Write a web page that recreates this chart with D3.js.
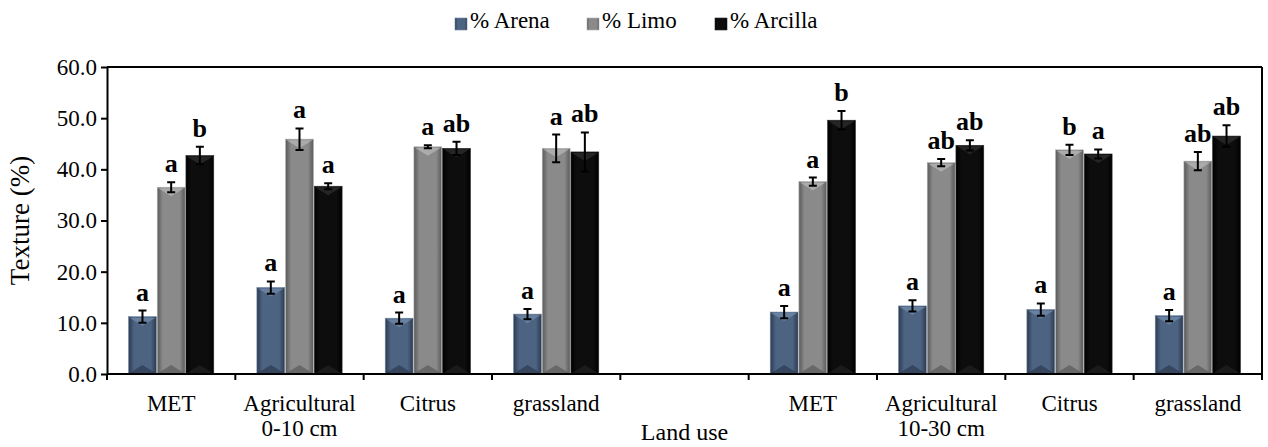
<!DOCTYPE html>
<html>
<head>
<meta charset="utf-8">
<style>body{margin:0;background:#fff;}</style>
</head>
<body>
<svg width="1268" height="447"></svg>
<script src="https://d3js.org/d3.v7.min.js"></script>
<script>

var categories = ["MET", "Agricultural", "Citrus", "grassland", "", "MET", "Agricultural", "Citrus", "grassland"];
var subLabels = ["", "0-10 cm", "", "", "", "", "10-30 cm", "", ""];
var seriesNames = ["% Arena", "% Limo", "% Arcilla"];
var yTicks = [0, 10, 20, 30, 40, 50, 60];

var arena = [11.2, 16.9, 10.9, 11.7, null, 12.1, 13.3, 12.6, 11.4];
var limo = [36.5, 45.9, 44.4, 44.1, null, 37.6, 41.3, 43.8, 41.6];
var arcilla = [42.7, 36.7, 44.1, 43.4, null, 49.6, 44.7, 43.0, 46.5];

var arenaErr = [1.2, 1.2, 1.1, 1.0, null, 1.2, 1.1, 1.2, 1.1];
var limoErr = [1.0, 2.1, 0.3, 2.7, null, 0.8, 0.7, 1.0, 1.8];
var arcillaErr = [1.7, 0.6, 1.3, 3.8, null, 1.8, 1.0, 0.9, 2.1];

var arenaSig = ["a", "a", "a", "a", null, "a", "a", "a", "a"];
var limoSig = ["a", "a", "a", "a", null, "a", "ab", "b", "ab"];
var arcillaSig = ["b", "a", "ab", "ab", null, "b", "ab", "a", "ab"];

var serif = "'Liberation Serif'";

var svg = d3.select("svg").style("font-family", serif),
    margin = {top: 67, right: 6, bottom: 73, left: 107},
    width = +svg.attr("width") - margin.left - margin.right,
    height = +svg.attr("height") - margin.top - margin.bottom,
    g = svg.append("g").attr("transform", "translate(" + margin.left + "," + margin.top + ")");

// bar colours: edge, mid, light
var shades = [
  {edge: "#2c3a4f", mid: "#4d6382", light: "#6f86a6"},
  {edge: "#5a5a5a", mid: "#8a8a8a", light: "#b0b0b0"},
  {edge: "#000000", mid: "#0d0d0d", light: "#2a2a2a"}
];

var defs = svg.append("defs");
shades.forEach(function(s, i) {
  var gr = defs.append("linearGradient").attr("id", "grad" + i)
      .attr("x1", "0").attr("x2", "1").attr("y1", "0").attr("y2", "0");
  gr.append("stop").attr("offset", "0").attr("stop-color", s.edge);
  gr.append("stop").attr("offset", "0.2").attr("stop-color", s.mid);
  gr.append("stop").attr("offset", "0.8").attr("stop-color", s.mid);
  gr.append("stop").attr("offset", "1").attr("stop-color", s.edge);
});

var rows = [];
categories.forEach(function(c, i) {
  [arena, limo, arcilla].forEach(function(arr, k) {
    if (arr[i] == null) return;
    rows.push({
      cat: i, series: k, value: arr[i],
      err: [arenaErr, limoErr, arcillaErr][k][i],
      sig: [arenaSig, limoSig, arcillaSig][k][i]
    });
  });
});

var x0 = d3.scaleBand()
    .domain(d3.range(categories.length))
    .range([0, width])
    .paddingInner(0.336)
    .paddingOuter(0.168);

var x1 = d3.scaleBand()
    .domain([0, 1, 2])
    .range([0, x0.bandwidth()])
    .paddingInner(0.03);

var y = d3.scaleLinear()
    .domain([0, 60])
    .range([height, 0]);

// y axis
var yAxis = g.append("g")
    .call(d3.axisLeft(y).tickValues(yTicks).tickFormat(d3.format(".1f")).tickSize(6).tickSizeOuter(0));
yAxis.attr("font-family", null).attr("font-size", null).style("font-family", serif);
yAxis.select(".domain").attr("stroke-width", 2);
yAxis.selectAll(".tick line").attr("stroke-width", 2);
yAxis.selectAll(".tick text")
    .style("font-family", serif)
    .style("font-size", "23px")
    .attr("fill", "#000")
    .attr("x", -10);

// box top and right
g.append("line").attr("x1", 0).attr("x2", width).attr("y1", 0).attr("y2", 0)
    .attr("stroke", "#000").attr("stroke-width", 2);
g.append("line").attr("x1", width).attr("x2", width).attr("y1", 0).attr("y2", height)
    .attr("stroke", "#000").attr("stroke-width", 2);

// bars
var bars = g.append("g").selectAll("g")
  .data(rows)
  .enter().append("g")
    .attr("transform", function(d) { return "translate(" + (x0(d.cat) + x1(d.series)) + ",0)"; });

bars.append("rect")
    .attr("x", 0)
    .attr("y", function(d) { return y(d.value); })
    .attr("width", x1.bandwidth())
    .attr("height", function(d) { return height - y(d.value); })
    .attr("fill", function(d) { return "url(#grad" + d.series + ")"; })
    .attr("stroke", function(d) { return shades[d.series].light; })
    .attr("stroke-width", 0.6);

// bevel facets: light triangle at top, dark at bottom
bars.append("path")
    .attr("d", function(d) {
      var w = x1.bandwidth(), t = y(d.value), h = Math.min(9, (height - t) / 2);
      return "M1," + (t + 1) + "L" + (w - 1) + "," + (t + 1) + "L" + (w / 2) + "," + (t + h) + "Z";
    })
    .attr("fill", function(d) { return shades[d.series].light; })
    .attr("opacity", 0.85);

bars.append("path")
    .attr("d", function(d) {
      var w = x1.bandwidth();
      return "M1," + (height - 1) + "L" + (w - 1) + "," + (height - 1) + "L" + (w / 2) + "," + (height - 9) + "Z";
    })
    .attr("fill", function(d) { return d.series == 2 ? "#222" : shades[d.series].edge; })
    .attr("opacity", 0.7);

// error bars
var cap = 4;
bars.append("path")
    .attr("d", function(d) {
      var cx = x1.bandwidth() / 2, lo = y(d.value - d.err), hi = y(d.value + d.err);
      return "M" + cx + "," + lo + "V" + hi +
             "M" + (cx - cap) + "," + hi + "H" + (cx + cap) +
             "M" + (cx - cap) + "," + lo + "H" + (cx + cap);
    })
    .attr("stroke", "#000")
    .attr("stroke-width", 2)
    .attr("fill", "none");

// significance letters
bars.append("text")
    .attr("x", x1.bandwidth() / 2)
    .attr("y", function(d) { return y(d.value + d.err) - 10; })
    .attr("text-anchor", "middle")
    .style("font-family", serif)
    .style("font-weight", "bold")
    .style("font-size", "26px")
    .text(function(d) { return d.sig; });

// x axis with ticks at category boundaries
var boundaries = d3.range(categories.length + 1).map(function(i) { return i * x0.step(); });
g.append("line")
    .attr("x1", 0).attr("x2", width).attr("y1", height).attr("y2", height)
    .attr("stroke", "#000").attr("stroke-width", 2);
g.append("g").selectAll("line")
  .data(boundaries)
  .enter().append("line")
    .attr("x1", function(d) { return d; })
    .attr("x2", function(d) { return d; })
    .attr("y1", height)
    .attr("y2", height + 6)
    .attr("stroke", "#000")
    .attr("stroke-width", 2);

var labels = g.append("g").selectAll("text")
  .data(categories)
  .enter().append("text")
    .attr("x", function(d, i) { return x0(i) + x0.bandwidth() / 2; })
    .attr("y", height + 37)
    .attr("text-anchor", "middle")
    .style("font-family", serif)
    .style("font-size", "23px");
labels.append("tspan").text(function(d) { return d; });
labels.append("tspan")
    .attr("x", function(d, i) { return x0(i) + x0.bandwidth() / 2; })
    .attr("dy", 25)
    .text(function(d, i) { return subLabels[i]; });

// axis titles
g.append("text")
    .attr("x", width / 2)
    .attr("y", height + 66)
    .attr("text-anchor", "middle")
    .style("font-family", serif)
    .style("font-size", "24px")
    .text("Land use");

g.append("text")
    .attr("transform", "rotate(-90)")
    .attr("x", -height / 2)
    .attr("y", -78)
    .attr("text-anchor", "middle")
    .style("font-family", serif)
    .style("font-size", "27px")
    .text("Texture (%)");

// legend
var legendX = [455, 587, 715];
var legend = svg.append("g").selectAll("g")
  .data(seriesNames)
  .enter().append("g")
    .attr("transform", function(d, i) { return "translate(" + legendX[i] + ",18)"; });
legend.append("rect")
    .attr("width", 12).attr("height", 12)
    .attr("fill", function(d, i) { return "url(#grad" + i + ")"; })
    .attr("stroke", function(d, i) { return shades[i].light; })
    .attr("stroke-width", 0.6);
legend.append("text")
    .attr("x", 15)
    .attr("y", 10)
    .style("font-family", serif)
    .style("font-size", "23px")
    .text(function(d) { return d; });

</script>
</body>
</html>
